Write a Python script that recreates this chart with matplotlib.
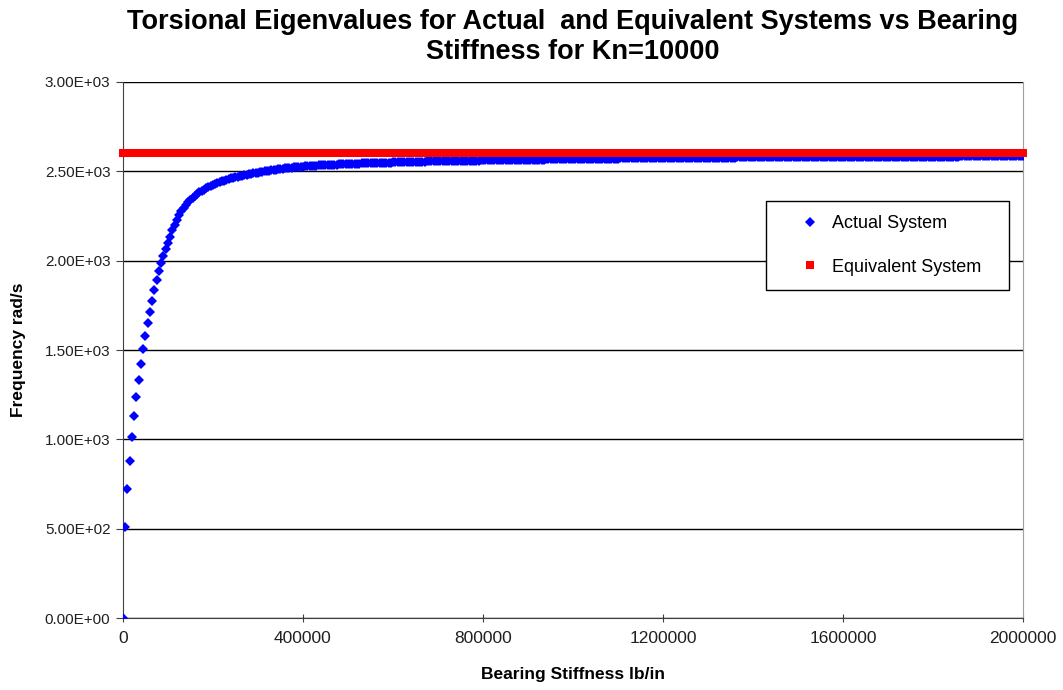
import numpy as np
import matplotlib
matplotlib.use('Agg')
import matplotlib.pyplot as plt
from matplotlib.ticker import FuncFormatter, MultipleLocator

plt.rcParams['font.family'] = ['Liberation Sans', 'DejaVu Sans']

############################################################################################################################

# Data: bearing stiffness sweep in 5000 lb/in steps, 0 .. 2,000,000

stiffness = np.arange(0, 2000001, 5000)

# torsional eigenvalue of the actual system (rad/s), one row per 100000 lb/in
actual_freq = [
    0, 511, 722, 880, 1015, 1132, 1237, 1332, 1422, 1506, 1578, 1649, 1714, 1776, 1836, 1890, 1940, 1986, 2027, 2064,
    2099, 2135, 2170, 2202, 2230, 2255, 2277, 2296, 2313, 2328, 2341, 2353, 2364, 2374, 2383, 2391, 2398, 2405, 2411, 2417,
    2423, 2429, 2434, 2439, 2444, 2448, 2452, 2456, 2460, 2463, 2466, 2469, 2472, 2475, 2478, 2481, 2483, 2486, 2488, 2490,
    2492, 2495, 2497, 2500, 2502, 2504, 2506, 2508, 2510, 2512, 2513, 2515, 2516, 2518, 2519, 2520, 2522, 2523, 2524, 2525,
    2526, 2527, 2528, 2529, 2530, 2531, 2532, 2533, 2534, 2534, 2535, 2536, 2537, 2537, 2538, 2538, 2539, 2539, 2540, 2540,
    2541, 2541, 2542, 2542, 2543, 2543, 2544, 2544, 2545, 2545, 2546, 2546, 2547, 2547, 2548, 2548, 2548, 2549, 2549, 2549,
    2550, 2550, 2551, 2551, 2551, 2552, 2552, 2552, 2553, 2553, 2553, 2554, 2554, 2554, 2554, 2555, 2555, 2555, 2555, 2556,
    2556, 2556, 2557, 2557, 2557, 2557, 2558, 2558, 2558, 2558, 2559, 2559, 2559, 2559, 2560, 2560, 2560, 2560, 2560, 2561,
    2561, 2561, 2561, 2562, 2562, 2562, 2562, 2562, 2563, 2563, 2563, 2563, 2563, 2564, 2564, 2564, 2564, 2564, 2565, 2565,
    2565, 2565, 2565, 2566, 2566, 2566, 2566, 2566, 2567, 2567, 2567, 2567, 2567, 2568, 2568, 2568, 2568, 2568, 2568, 2569,
    2569, 2569, 2569, 2569, 2569, 2569, 2570, 2570, 2570, 2570, 2570, 2570, 2570, 2571, 2571, 2571, 2571, 2571, 2571, 2571,
    2571, 2572, 2572, 2572, 2572, 2572, 2572, 2573, 2573, 2573, 2573, 2573, 2573, 2573, 2574, 2574, 2574, 2574, 2574, 2574,
    2574, 2574, 2574, 2575, 2575, 2575, 2575, 2575, 2575, 2575, 2575, 2575, 2576, 2576, 2576, 2576, 2576, 2576, 2576, 2576,
    2576, 2576, 2576, 2577, 2577, 2577, 2577, 2577, 2577, 2577, 2577, 2577, 2577, 2578, 2578, 2578, 2578, 2578, 2578, 2578,
    2578, 2578, 2578, 2578, 2578, 2578, 2578, 2578, 2579, 2579, 2579, 2579, 2579, 2579, 2579, 2579, 2579, 2579, 2579, 2579,
    2579, 2579, 2579, 2579, 2579, 2579, 2579, 2579, 2579, 2579, 2580, 2580, 2580, 2580, 2580, 2580, 2580, 2580, 2580, 2580,
    2580, 2580, 2580, 2580, 2580, 2580, 2580, 2580, 2580, 2580, 2580, 2580, 2581, 2581, 2581, 2581, 2581, 2581, 2581, 2581,
    2581, 2581, 2581, 2581, 2581, 2581, 2581, 2581, 2581, 2581, 2581, 2581, 2582, 2582, 2582, 2582, 2582, 2582, 2582, 2582,
    2582, 2582, 2582, 2582, 2582, 2582, 2582, 2582, 2582, 2582, 2582, 2582, 2583, 2583, 2583, 2583, 2583, 2583, 2583, 2583,
    2583, 2583, 2583, 2583, 2583, 2583, 2583, 2583, 2584, 2584, 2584, 2584, 2584, 2584, 2584, 2584, 2585, 2585, 2585, 2585,
    2586,
]

# equivalent system gives one eigenvalue, independent of bearing stiffness
equiv_freq = 2600.0

############################################################################################################################

# Main
fig = plt.figure(figsize=(10.63, 6.90), dpi=100)
ax = fig.add_axes([0.1157, 0.1043, 0.8467, 0.7769])

ax.plot(stiffness, actual_freq, linestyle='none', marker='D', markersize=5.6,
        color='#0000ff', markeredgewidth=0, label='Actual System', zorder=3)
ax.plot(stiffness, np.full(len(stiffness), equiv_freq), linestyle='none', marker='s', markersize=5.8,
        color='#ff0000', markeredgewidth=0, label='Equivalent System', zorder=4, clip_on=False)

ax.set_xlim([0, 2000000])
ax.set_ylim([0, 3000])
ax.xaxis.set_major_locator(MultipleLocator(400000))
ax.yaxis.set_major_locator(MultipleLocator(500))
ax.xaxis.set_major_formatter(FuncFormatter(lambda v, p: '%d' % v))
ax.yaxis.set_major_formatter(FuncFormatter(lambda v, p: '%.2E' % v))

ax.grid(True, axis='y', color='black', linewidth=1.0)
ax.set_axisbelow(True)
ax.spines['top'].set_visible(False)
ax.spines['right'].set_color('#a0a0a0')
ax.spines['left'].set_color('#404040')
ax.spines['bottom'].set_color('#404040')
ax.tick_params(axis='y', direction='out', length=5, color='#404040', labelsize=11, pad=4, labelcolor='#202020')
ax.tick_params(axis='x', direction='inout', length=6, color='#404040', labelsize=12.5, pad=6, labelcolor='#202020')

ax.set_xlabel('Bearing Stiffness lb/in', fontsize=12.5, fontweight='bold')
ax.set_ylabel('Frequency rad/s', fontsize=12.5, fontweight='bold')
ax.xaxis.set_label_coords(0.5, -0.092)
ax.yaxis.set_label_coords(-0.108, 0.5)

fig.text(0.539, 0.968, 'Torsional Eigenvalues for Actual  and Equivalent Systems vs Bearing',
         ha='center', va='center', fontsize=19.5, fontweight='bold')
fig.text(0.539, 0.925, 'Stiffness for Kn=10000',
         ha='center', va='center', fontsize=19.5, fontweight='bold')

legend = ax.legend(loc='upper left', bbox_to_anchor=(0.714, 0.621, 0.270, 0.157), mode='expand',
                   fontsize=13, frameon=True, fancybox=False, framealpha=1, borderpad=0.8,
                   labelspacing=1.45, handlelength=3.3, handletextpad=-0.45, markerscale=1.0,
                   borderaxespad=0)
legend.get_frame().set_edgecolor('black')
legend.get_frame().set_linewidth(1.0)
legend.set_zorder(10)

plt.savefig('out.png', dpi=100)
